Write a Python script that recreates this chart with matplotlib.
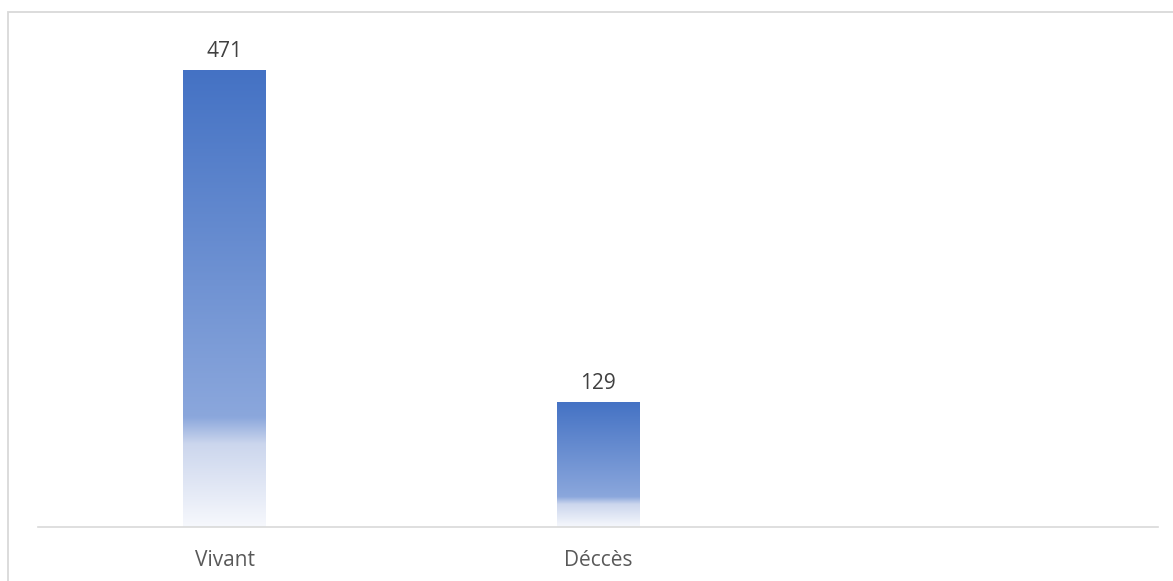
import matplotlib

matplotlib.use("Agg")

import matplotlib.pyplot as plt
import numpy as np
from matplotlib.colors import LinearSegmentedColormap
from matplotlib.patches import Rectangle

# ── data ──────────────────────────────────────────────────────────────
categories = ["Vivant", "Déccès", ""]
counts = [471, 129, None]

# ── style ─────────────────────────────────────────────────────────────
plt.rcParams["font.family"] = ["Open Sans", "DejaVu Sans"]
W, H = 1173, 581
fig = plt.figure(figsize=(W / 100, H / 100), dpi=100)
ax = fig.add_axes([38 / W, 54 / H, (1158 - 38) / W, (527 - 42) / H])

# Excel-like "linear down" gradient: dark accent on top, fading to white
grad = LinearSegmentedColormap.from_list(
    "xl_grad",
    [
        (0.00, (0.267, 0.447, 0.769)),
        (0.76, (0.545, 0.655, 0.863)),
        (0.82, (0.800, 0.840, 0.930)),
        (1.00, (0.965, 0.972, 0.990)),
    ],
)

x = np.arange(len(categories))
heights = [c if c is not None else 0 for c in counts]
bars = ax.bar(x, heights, width=0.222, color="none", edgecolor="none")

ramp = np.linspace(0, 1, 256).reshape(-1, 1)
for bar, val in zip(bars, counts):
    if val is None:
        continue
    x0, w, h = bar.get_x(), bar.get_width(), bar.get_height()
    im = ax.imshow(ramp, cmap=grad, aspect="auto", extent=(x0, x0 + w, 0, h),
                   origin="upper", zorder=2, interpolation="bilinear")
    im.set_clip_path(bar)
    ax.annotate(f"{val}", (bar.get_x() + w / 2, h), xytext=(0, 6),
                textcoords="offset points", ha="center", va="bottom",
                fontsize=15, color="#404040")

ax.set_xlim(-0.5, len(categories) - 0.5)
ax.set_ylim(0, 500)
ax.set_xticks(x)
ax.set_xticklabels(categories, fontsize=15, color="#595959")
ax.tick_params(axis="x", length=0, pad=16.5)
ax.set_yticks([])
for side in ("top", "left", "right"):
    ax.spines[side].set_visible(False)
ax.spines["bottom"].set_color("#D9D9D9")
ax.spines["bottom"].set_linewidth(1.2)

# chart-area border (only top/left edges fall inside the image)
fig.patches.append(Rectangle((8 / W, -0.1), 1.2, (581 - 12) / H + 0.1,
                             transform=fig.transFigure, fill=False,
                             edgecolor="#D9D9D9", linewidth=1.3))

fig.savefig("out.png", dpi=100)
